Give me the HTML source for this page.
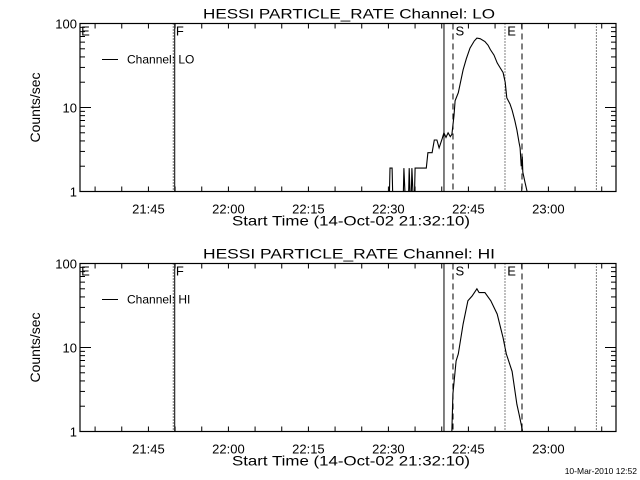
<!DOCTYPE html>
<html><head><meta charset="utf-8"><style>
html,body{margin:0;padding:0;background:#fff;}
svg{display:block;font-family:"Liberation Sans",sans-serif;}
</style></head><body>
<svg id="chart" width="640" height="480" viewBox="0 0 640 480" xmlns="http://www.w3.org/2000/svg">
<rect width="640" height="480" fill="#fff"/>
<text x="637" y="474" font-size="8.5" text-anchor="end">10-Mar-2010 12:52</text>
</svg>
<script>
// time in minutes since 21:30
const xTickTimes = [15, 30, 45, 60, 75, 90];
const xTickLabels = ["21:45", "22:00", "22:15", "22:30", "22:45", "23:00"];
const yTickValues = [1, 10, 100];
const yTickLabels = ["1", "10", "100"];
const loTimes = [60.1,60.3,60.7,60.9,62.7,62.9,63.3,63.7,63.9,64.2,64.4,64.8,65.0,65.4,65.6,67.1,67.4,68.2,68.6,69.1,69.5,70.1,70.4,70.8,71.2,71.6,71.9,72.3,72.5,73.1,74.0,74.6,75.3,76.1,76.6,77.2,78.1,78.7,79.1,79.8,80.4,80.9,81.5,81.9,82.2,82.8,83.2,83.7,84.1,84.5,84.7,84.9,85.1,85.2,85.6,86.0,86.2];
const loCounts = [0.5,1.9,1.9,0.5,0.5,1.9,0.5,0.5,1.9,0.5,1.9,0.5,1.9,1.9,1.9,1.9,2.9,2.9,4.1,4.1,3.3,4.3,5.0,4.4,5.0,4.5,4.8,8,12,15,28,38,51,62,67,66,61,55,49,42,34,30,26,20,13,11,9.3,7,5.4,3.8,3.3,2.0,2.6,1.7,1.3,1.0,0.5];
const hiTimes = [71.7,71.9,72.1,72.7,73.1,74.0,74.9,75.7,76.6,77.0,78.1,79.2,80.4,81.5,82.1,83.2,84.1,84.5,85.1,85.2];
const hiCounts = [0.5,1.05,2.8,6.9,8.4,19,36,41,50,45,45,36,25,13,8.4,5.2,2.1,1.6,1.05,0.5];
const markerTimes = [19.66, 19.93, 70.42, 72.11, 81.86, 85.05, 99.0];
const markerStyles = ["dotted","solid","solid","dashed","dotted","dashed","dotted"];
const markerLetters = [["E",2.2],["F",19.95],["S",72.4],["E",82.1]];

const NS = "http://www.w3.org/2000/svg";
const svg = document.getElementById("chart");
const X0 = 80, X1 = 616, T0 = 2.17, PXMIN = 5.333;
function xs(t){ return X0 + (t - T0) * PXMIN; }
function mk(tag, attrs, parent){ const e=document.createElementNS(NS,tag); for(const k in attrs) e.setAttribute(k,attrs[k]); (parent||svg).appendChild(e); return e; }

function panel(top, title, legendLabel, times, counts, id){
  const bottom = top + 168;
  const ys = v => bottom - Math.log10(v) * 84;
  const g = mk("g", {});
  
  
  const t = mk("text", {x:349, y:top-5, "font-size":14, "text-anchor":"middle", textLength:292, lengthAdjust:"spacingAndGlyphs"}, g);
  t.textContent = title;
  
  
  const clipId = "clip-" + id;
  const cp = mk("clipPath", {id:clipId}, g);
  mk("rect", {x:X0, y:top, width:X1-X0, height:168}, cp);
  markerTimes.forEach((mt, i) => {
    const st = markerStyles[i];
    const l = mk("line", {x1:xs(mt), x2:xs(mt), y1:top, y2:bottom, stroke:"#000", "stroke-width":1,
      "stroke-dasharray": st==="dotted" ? "1,2" : (st==="dashed" ? "6,4" : "none")}, g);
    
    
  });
  markerLetters.forEach(m => {
    const tx = mk("text", {x:xs(m[1]) + 1, y:top + 12, "font-size":13}, g);
    tx.textContent = m[0];
    
    
  });
  let d = "";
  times.forEach((tm, i) => { d += (i ? "L" : "M") + xs(tm).toFixed(1) + "," + ys(counts[i]).toFixed(1); });
  const p = mk("path", {d:d, fill:"none", stroke:"#000", "stroke-width":1.1, "clip-path":"url(#"+clipId+")"}, g);
  
  
  const fr = mk("rect", {x:X0, y:top, width:X1-X0, height:168, fill:"none", stroke:"#000", "stroke-width":1.2}, g);
  
  
  for (let tm = 5; tm <= 100; tm += 5) {
    const x = xs(tm);
    if (x <= X0 || x >= X1) continue;
    mk("line", {x1:x, x2:x, y1:bottom, y2:bottom-5, stroke:"#000"}, g);
    mk("line", {x1:x, x2:x, y1:top, y2:top+5, stroke:"#000"}, g);
  }
  xTickTimes.forEach((tm, i) => {
    const tx = mk("text", {x:xs(tm), y:bottom+22, "font-size":13, "text-anchor":"middle"}, g);
    tx.textContent = xTickLabels[i];
    
    
  });
  const xt = mk("text", {x:351, y:bottom+34, "font-size":14, "text-anchor":"middle", textLength:238, lengthAdjust:"spacingAndGlyphs"}, g);
  xt.textContent = "Start Time (14-Oct-02 21:32:10)";
  
  
  for (let dec = 1; dec <= 10; dec *= 10) {
    for (let k = 1; k <= 10; k++) {
      const v = dec * k; if (v > 100) continue;
      const y = ys(v);
      const len = (k === 1 || k === 10) ? 11 : 5;
      mk("line", {x1:X0, x2:X0+len, y1:y, y2:y, stroke:"#000"}, g);
      mk("line", {x1:X1, x2:X1-len, y1:y, y2:y, stroke:"#000"}, g);
    }
  }
  yTickValues.forEach((v, i) => {
    const tx = mk("text", {x:77, y:ys(v)+5, "font-size":13, "text-anchor":"end"}, g);
    tx.textContent = yTickLabels[i];
    
    
  });
  const yt = mk("text", {x:0, y:0, "font-size":14, "text-anchor":"middle", transform:"translate(40,"+(top+84)+") rotate(-90)"}, g);
  yt.textContent = "Counts/sec";
  
  
  const ll = mk("line", {x1:102, x2:118, y1:top+36, y2:top+36, stroke:"#000"}, g);
  
  
  const lt = mk("text", {x:127, y:top+40, "font-size":12}, g);
  lt.textContent = legendLabel;
  
  
}
panel(23.5, "HESSI PARTICLE_RATE Channel: LO", "Channel: LO", loTimes, loCounts, "lo");
panel(263.5, "HESSI PARTICLE_RATE Channel: HI", "Channel: HI", hiTimes, hiCounts, "hi");
</script>
</body></html>
